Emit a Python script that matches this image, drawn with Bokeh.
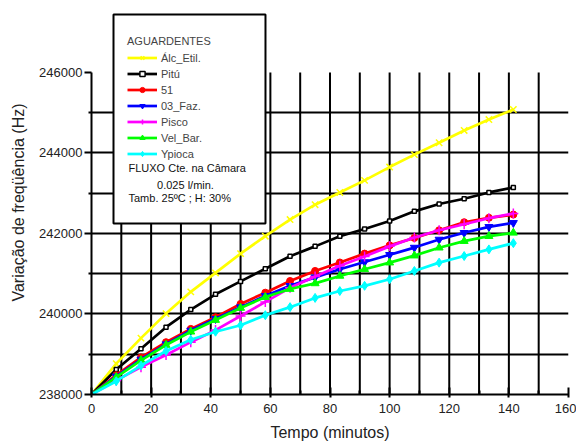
from bokeh.plotting import figure
from bokeh.models import (FixedTicker, BoxAnnotation, Label, Legend, LegendItem, Range1d,
                          BasicTickFormatter)
from bokeh.embed import file_html
from bokeh.resources import INLINE

# ---- data ----
tempo = [0, 8.3, 16.6, 25, 33.3, 41.6, 50, 58.3, 66.6, 75, 83.3, 91.6, 100, 108.3, 116.6, 125, 133.3, 141.5]
alc_etil = [238000, 238766, 239400, 240010, 240550, 241020, 241500, 241933, 242346, 242716,
            243020, 243320, 243650, 243960, 244254, 244560, 244830, 245080]
pitu = [238000, 238620, 239136, 239672, 240110, 240490, 240810, 241125, 241435, 241680,
        241933, 242110, 242310, 242550, 242733, 242864, 243020, 243143]
s51 = [238000, 238480, 238920, 239300, 239630, 239920, 240250, 240530, 240820, 241070,
       241280, 241500, 241705, 241890, 242080, 242280, 242390, 242470]
faz03 = [238000, 238450, 238870, 239250, 239590, 239880, 240170, 240450, 240700, 240910,
         241110, 241290, 241470, 241650, 241850, 242017, 242165, 242264]
pisco = [238000, 238350, 238680, 238980, 239300, 239600, 239950, 240300, 240650, 240930,
         241200, 241430, 241680, 241900, 242080, 242230, 242380, 242494]
vel_bar = [238000, 238430, 238850, 239230, 239560, 239850, 240150, 240420, 240620, 240760,
           240946, 241111, 241276, 241450, 241647, 241810, 241933, 242017]
ypioca = [238000, 238330, 238720, 239080, 239360, 239560, 239720, 239970, 240170, 240400,
          240570, 240700, 240864, 241069, 241276, 241440, 241605, 241760]

series_names = ["Álc_Etil.", "Pitú", "51", "03_Faz.", "Pisco", "Vel_Bar.", "Ypioca"]
series_values = [alc_etil, pitu, s51, faz03, pisco, vel_bar, ypioca]

x_major = [0, 20, 40, 60, 80, 100, 120, 140, 160]
x_minor = [10, 30, 50, 70, 90, 110, 130, 150]
x_grid = [10, 20, 30, 40, 50, 60, 70, 80, 90, 100, 110, 120, 130, 140, 150]
y_major = [238000, 240000, 242000, 244000, 246000]
y_minor = [239000, 241000, 243000, 245000]
y_grid = [239000, 240000, 241000, 242000, 243000, 244000, 245000]

# ---- styles ----
colors = ["#FFFF00", "#000000", "#FF0000", "#0000FF", "#FF00FF", "#00FF00", "#00FFFF"]
markers = ["x", "square", "circle", "inverted_triangle", "cross", "triangle", "diamond"]
msizes = [9, 4, 7, 8, 10, 8, 9]
FONT = "Liberation Sans"
Y_LO, Y_HI = 238000, 246000
Y_TOP = 247540  # extra room above the axis for the legend box

p = figure(width=576, height=443, output_backend="svg", toolbar_location=None,
           x_range=Range1d(0, 160), y_range=Range1d(Y_LO, Y_TOP),
           min_border_left=91, min_border_right=8, min_border_top=10, min_border_bottom=49)
p.outline_line_color = None
p.background_fill_color = "white"

# axes
xa = p.xaxis[0]
xa.ticker = FixedTicker(ticks=x_major, minor_ticks=x_minor)
xa.axis_label = "Tempo (minutos)"
ya = p.yaxis[0]
ya.ticker = FixedTicker(ticks=y_major, minor_ticks=y_minor)
ya.formatter = BasicTickFormatter(use_scientific=False)
ya.bounds = (Y_LO, Y_HI)
ya.axis_label = "Variação de freqüência (Hz)"
for ax in (xa, ya):
    ax.axis_line_width = 2
    ax.axis_line_color = "black"
    ax.major_tick_line_width = 2
    ax.minor_tick_line_width = 2
    ax.major_tick_line_color = "black"
    ax.minor_tick_line_color = "black"
    ax.major_label_text_font = FONT
    ax.major_label_text_font_size = "13px"
    ax.major_label_text_color = "#222222"
    ax.axis_label_text_font = FONT
    ax.axis_label_text_font_size = "16px"
    ax.axis_label_text_font_style = "normal"
    ax.axis_label_text_color = "#222222"
xa.major_tick_in = 7
xa.major_tick_out = 3
xa.minor_tick_in = 4
xa.minor_tick_out = 0
xa.major_label_standoff = 6
xa.axis_label_standoff = 8
ya.major_tick_in = 0
ya.major_tick_out = 7
ya.minor_tick_in = 0
ya.minor_tick_out = 3
ya.major_label_standoff = 2
ya.axis_label_standoff = 9

# grids: horizontal via the grid, vertical lines as segments that stop at the top tick
p.xgrid.visible = False
p.ygrid.ticker = FixedTicker(ticks=y_grid)
p.ygrid.grid_line_color = "black"
p.ygrid.grid_line_width = 2
p.ygrid.grid_line_alpha = 1
p.segment(x0=x_grid, y0=[Y_LO] * len(x_grid), x1=x_grid, y1=[Y_HI] * len(x_grid),
          line_color="black", line_width=2)

# series
items = []
for name, ys, c, m, s in zip(series_names, series_values, colors, markers, msizes):
    r1 = p.line(tempo, ys, line_color=c, line_width=2.7)
    fill = "white" if m == "square" else c
    r2 = p.scatter(tempo, ys, marker=m, size=s, line_color=c, fill_color=fill,
                   line_width=1.5 if m in ("x", "cross", "square") else 1)
    items.append(LegendItem(label=name, renderers=[r1, r2]))

# legend frame (box), legend and notes
box = BoxAnnotation(left=7.38, right=58.36, top=247441, bottom=242248,
                    fill_color="white", fill_alpha=1.0, line_color="black", line_width=2,
                    line_alpha=1.0)
p.add_layout(box)

legend = Legend(items=items, location=(36, 234), title="AGUARDENTES",
                title_text_font=FONT, title_text_font_size="11px", title_text_font_style="normal",
                title_standoff=4, label_text_font=FONT, label_text_font_size="11px",
                label_standoff=4, glyph_width=30, glyph_height=13, label_height=13,
                spacing=3, padding=0, margin=0, border_line_alpha=0,
                background_fill_alpha=0)
p.add_layout(legend)

notes = [("FLUXO Cte. na Câmara", 12.41, 243615, "left"),
         ("0.025 l/min.", 31.53, 243217, "center"),
         ("Tamb. 25ºC ; H: 30%", 12.41, 242870, "left")]
for txt, tx, ty, al in notes:
    p.add_layout(Label(x=tx, y=ty, text=txt, text_font=FONT, text_font_size="11px",
                       text_baseline="middle", text_align=al, text_color="#111111"))

open("out.html", "w").write(file_html(p, INLINE))
